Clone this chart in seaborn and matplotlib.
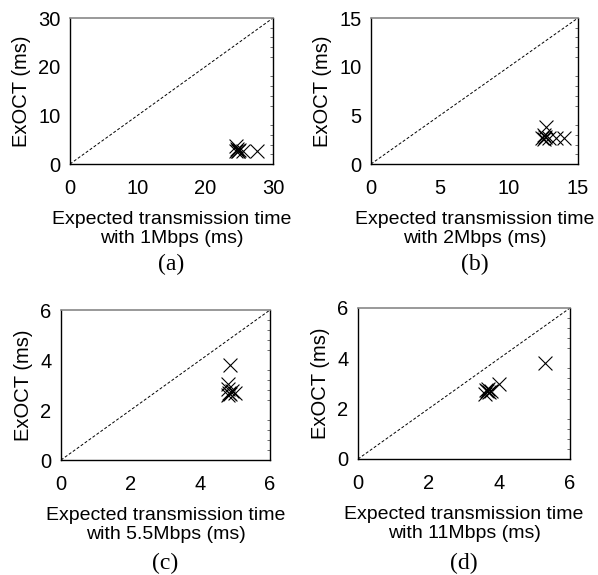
import matplotlib
matplotlib.use("Agg")
import matplotlib.pyplot as plt
import seaborn as sns
import pandas as pd
from matplotlib.ticker import AutoMinorLocator

# ---------------------------------------------------------------------------
# Data
# ---------------------------------------------------------------------------
rates = ["1Mbps", "2Mbps", "5.5Mbps", "11Mbps"]
panel_tags = ["(a)", "(b)", "(c)", "(d)"]
axis_max = [30, 15, 6, 6]
tick_step = [10, 5, 2, 2]

tx_1m = [24.6, 24.7, 24.8, 24.6, 24.9, 25.0, 25.6, 27.6]
exoct_1m = [3.8, 3.0, 2.7, 2.6, 2.7, 2.8, 2.7, 2.7]

tx_2m = [12.4, 12.5, 12.6, 12.7, 12.5, 12.9, 13.4, 14.0]
exoct_2m = [2.7, 2.6, 2.8, 3.8, 3.0, 2.7, 2.7, 2.7]

tx_55m = [4.85, 4.8, 4.78, 4.8, 4.82, 4.86, 4.9, 5.0]
exoct_55m = [3.8, 3.05, 2.85, 2.6, 2.7, 2.65, 2.75, 2.7]

tx_11m = [3.6, 3.65, 3.7, 3.62, 3.68, 3.75, 4.0, 5.3]
exoct_11m = [2.6, 2.7, 2.65, 2.75, 2.8, 2.7, 3.0, 3.8]

series = [(tx_1m, exoct_1m), (tx_2m, exoct_2m), (tx_55m, exoct_55m), (tx_11m, exoct_11m)]

sns.set_theme(style="white")
plt.rcParams["font.family"] = ["Liberation Sans", "DejaVu Sans"]
plt.rcParams["text.color"] = "black"
plt.rcParams["axes.labelcolor"] = "black"
plt.rcParams["xtick.color"] = "black"
plt.rcParams["ytick.color"] = "black"

W, H = 598, 575
fig = plt.figure(figsize=(W / 100, H / 100), dpi=100)

# axes boxes in pixels: left, right, top, bottom
boxes = [(70, 273, 18, 164), (371, 578, 18, 164), (61, 270, 310, 460), (358, 570, 308, 459)]

for i, (l, r, t, b) in enumerate(boxes):
    ax = fig.add_axes([l / W, (H - b) / H, (r - l) / W, (b - t) / H])
    xs, ys = series[i]
    df = pd.DataFrame({"tx": xs, "exoct": ys})
    m = axis_max[i]
    ax.plot([0, m], [0, m], color="black", linestyle=(0, (3, 2)), linewidth=0.7, zorder=1)
    sns.scatterplot(data=df, x="tx", y="exoct", marker="x", color="black",
                    s=100, linewidth=0.8, ax=ax, zorder=3)
    ax.set_xlim(0, m)
    ax.set_ylim(0, m)
    ticks = list(range(0, m + 1, tick_step[i]))
    ax.set_xticks(ticks)
    ax.set_yticks(ticks)
    ax.tick_params(axis="x", direction="in", length=0, pad=11, labelsize=14.5)
    ax.tick_params(axis="y", direction="in", length=0, pad=7, labelsize=14.5)
    ax.yaxis.set_minor_locator(AutoMinorLocator(5))
    ax.tick_params(axis="y", which="minor", right=True, left=False, direction="in",
                   length=2, width=0.6, color="#555555")
    for side in ["left", "bottom", "right"]:
        ax.spines[side].set_color("black")
        ax.spines[side].set_linewidth(1.0)
    ax.spines["top"].set_color("#888888")
    ax.spines["top"].set_linewidth(1.2)
    ax.set_xlabel(f"Expected transmission time\nwith {rates[i]} (ms)", fontsize=14,
                  labelpad=9, linespacing=1.2)
    ax.set_ylabel("ExOCT (ms)", fontsize=14.5, labelpad=5)
    ax.text(0.5, -0.69, panel_tags[i], transform=ax.transAxes, ha="center", va="center",
            fontsize=17, family="Liberation Serif")

fig.savefig("out.png", dpi=100)
